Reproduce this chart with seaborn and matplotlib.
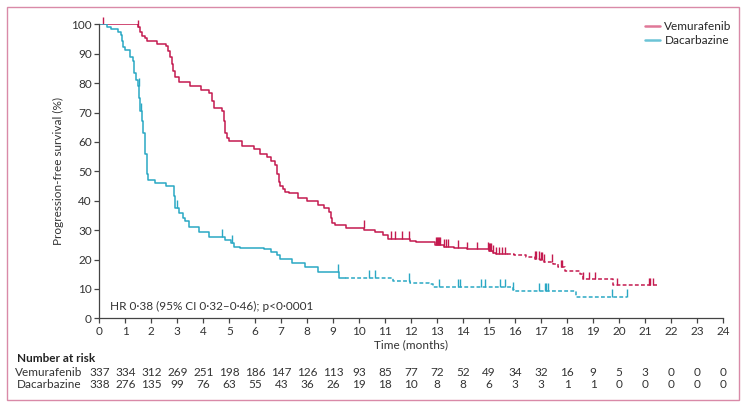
import matplotlib.pyplot as plt
import matplotlib.patches as mpatches
import numpy as np
import pandas as pd
import seaborn as sns

# --- Data ---
VEM_COLOR = "#c41a4f"
DAC_COLOR = "#2aa8c4"

vem_time = [0, 1.47, 1.55, 1.65, 1.75, 1.85, 2.2, 2.55, 2.65, 2.72, 2.78, 2.85, 2.92,
            3.05, 3.5, 3.9, 4.2, 4.35, 4.4, 4.7, 4.8, 4.85, 4.9, 5.0, 5.5, 5.95, 6.2,
            6.45, 6.6, 6.75, 6.85, 6.9, 6.97, 7.05, 7.15, 7.3, 7.65, 8.0, 8.4, 8.65,
            8.85, 8.9, 8.97, 9.05, 9.5, 10.2, 10.6, 10.9, 11.12, 11.95, 12.2, 12.9,
            13.25, 13.65, 14.15, 15.0, 15.15, 15.25, 15.95, 16.4, 16.75, 16.95, 17.1,
            17.45, 17.65, 17.9, 18.5, 18.6, 19.75, 21.45]
vem_surv = [100, 99, 97.5, 96, 95.5, 94.5, 93.5, 92.5, 91, 89, 86.5, 84, 82,
            80.3, 79, 77.8, 76.5, 74, 71.5, 70.5, 67, 63, 61.5, 60.2, 58.5, 57.5, 56,
            55, 53.5, 52, 49, 46.5, 45, 44, 43, 42.5, 41, 39.8, 38.5, 37.5,
            36, 34, 32.5, 31.8, 30.8, 30, 29.2, 28.5, 27, 26.4, 26, 25,
            24.4, 24, 23.5, 23, 22.3, 21.8, 21.4, 20.7, 20.2, 19.8, 19.3,
            18.5, 17.3, 16.2, 14.9, 13.3, 11.2, 11.2]
vem_censor = [0.15, 1.47, 10.17, 11.22, 11.36, 11.64, 11.93, 12.94, 12.98, 13.02, 13.06,
              13.1, 13.25, 13.32, 13.4, 13.8, 14.15, 14.53, 14.96, 15.0, 15.04, 15.08,
              15.15, 15.25, 15.38, 15.5, 15.62, 16.75, 16.82, 16.9, 16.98, 17.05, 17.12,
              17.4, 17.75, 17.82, 18.6, 18.83, 19.08, 19.9, 21.13, 21.2, 21.32]
vem_dash_from = 15.7

dac_time = [0, 0.3, 0.45, 0.7, 0.82, 0.86, 0.9, 1.0, 1.18, 1.3, 1.35, 1.42, 1.5, 1.53,
            1.57, 1.63, 1.68, 1.75, 1.82, 1.88, 2.15, 2.55, 2.87, 2.93, 3.05, 3.2, 3.3,
            3.45, 3.85, 4.2, 4.85, 5.05, 5.2, 5.4, 6.35, 6.6, 6.85, 6.95, 7.4, 7.9, 8.4,
            9.22, 11.3, 11.95, 12.7, 12.85, 15.9, 15.95, 18.35, 20.3]
dac_surv = [100, 99.2, 98.3, 97.5, 96.4, 94.5, 92.3, 91.4, 89, 87.4, 83.4, 81.2, 79, 75,
            70.5, 67, 63, 56, 49, 47, 46, 44.9, 41.5, 37.5, 35.7, 34, 33,
            31.2, 29.2, 27.8, 26.5, 25.6, 24.4, 24, 23.5, 22.7, 21.6, 20.1, 18.7, 17.3, 15.9,
            13.8, 12.7, 12.1, 11.5, 10.8, 9.6, 9.4, 7.3, 7.3]
dac_censor = [1.52, 1.6, 2.98, 4.71, 5.12, 9.17, 10.37, 10.6, 11.9, 13.06, 13.8, 13.87,
              14.7, 14.85, 15.4, 15.6, 15.9, 16.9, 17.15, 17.2, 17.27, 19.73, 20.3]
dac_dash_from = 9.45

risk_times = list(range(0, 25))
vem_risk = [337, 334, 312, 269, 251, 198, 186, 147, 126, 113, 93, 85, 77, 72, 52, 49,
            34, 32, 16, 9, 5, 3, 0, 0, 0]
dac_risk = [338, 276, 135, 99, 76, 63, 55, 43, 36, 26, 19, 18, 10, 8, 8, 6, 3, 3, 1, 1,
            0, 0, 0, 0, 0]

sns.set_style("ticks")
plt.rcParams['font.family'] = ['Lato', 'DejaVu Sans']
TEXT = "#333333"


def split_curve(times, surv, dash_from):
    """Split a step curve into a solid and a dashed part at dash_from."""
    t = np.array(times, dtype=float)
    s = np.array(surv, dtype=float)
    level = s[np.searchsorted(t, dash_from, side="right") - 1]
    solid_t = np.append(t[t < dash_from], dash_from)
    solid_s = np.append(s[t < dash_from], level)
    dash_t = np.insert(t[t > dash_from], 0, dash_from)
    dash_s = np.insert(s[t > dash_from], 0, level)
    return (pd.DataFrame({"t": solid_t, "s": solid_s}),
            pd.DataFrame({"t": dash_t, "s": dash_s}))


def censor_levels(times, surv, cens):
    t = np.array(times, dtype=float)
    s = np.array(surv, dtype=float)
    idx = np.searchsorted(t, np.array(cens), side="right") - 1
    return s[idx]


fig = plt.figure(figsize=(7.47, 4.07), dpi=100)
ax = fig.add_axes([0.133, 0.218, 0.835, 0.722])

for times, surv, cens, dash_from, color in [
        (vem_time, vem_surv, vem_censor, vem_dash_from, VEM_COLOR),
        (dac_time, dac_surv, dac_censor, dac_dash_from, DAC_COLOR)]:
    solid, dashed = split_curve(times, surv, dash_from)
    sns.lineplot(data=solid, x="t", y="s", ax=ax, color=color, lw=1.1,
                 drawstyle="steps-post", estimator=None, sort=False)
    sns.lineplot(data=dashed, x="t", y="s", ax=ax, color=color, lw=1.1,
                 drawstyle="steps-post", estimator=None, sort=False,
                 linestyle=(0, (2.5, 1.5)))
    lv = censor_levels(times, surv, cens)
    ax.vlines(cens, lv, lv + 2.6, color=color, lw=1.0, clip_on=False)

ax.set_xlim(0, 24)
ax.set_ylim(0, 100)
ax.set_xticks(risk_times)
ax.set_yticks(range(0, 101, 10))
ax.tick_params(direction="out", length=3.5, width=0.9, colors="#444444",
               labelsize=8.5, labelcolor=TEXT, pad=2)
for side in ["left", "bottom"]:
    ax.spines[side].set_color("#444444")
    ax.spines[side].set_linewidth(0.9)
sns.despine(ax=ax)
ax.set_xlabel("Time (months)", fontsize=8.5, color=TEXT, labelpad=2)
ax.set_ylabel("Progression-free survival (%)", fontsize=8.5, color=TEXT, labelpad=5)

# legend
handles = [plt.Line2D([], [], color="#e07898", lw=1.8),
           plt.Line2D([], [], color="#6cc4d6", lw=1.8)]
ax.legend(handles, ["Vemurafenib", "Dacarbazine"], loc="upper right",
          bbox_to_anchor=(1.031, 1.047), frameon=False, fontsize=8.5,
          handlelength=1.3, handletextpad=0.35, labelspacing=0.25)

ax.text(0.4, 4, "HR 0·38 (95% CI 0·32–0·46); p<0·0001", fontsize=8.5,
        color=TEXT, va="center", ha="left")

# number at risk table
fig.text(17 / 747, 1 - 359 / 407, "Number at risk", fontsize=8.5, fontweight="bold",
         color="#222222", va="center", ha="left")
for label, row, y in [("Vemurafenib", vem_risk, 372), ("Dacarbazine", dac_risk, 385)]:
    yf = 1 - y / 407
    fig.text(82 / 747, yf, label, fontsize=8.5, color=TEXT, va="center", ha="right")
    for t, n in zip(risk_times, row):
        xf = fig.transFigure.inverted().transform(ax.transData.transform((t, 0)))[0]
        fig.text(xf, yf, str(n), fontsize=8.5, color=TEXT, va="center", ha="center")

# outer frame
fig.patches.append(mpatches.Rectangle((7 / 747, 7 / 407), 732 / 747, 393 / 407,
                                      transform=fig.transFigure, fill=False,
                                      edgecolor="#d98aa8", lw=1.0))

fig.savefig("out.png", dpi=100)
